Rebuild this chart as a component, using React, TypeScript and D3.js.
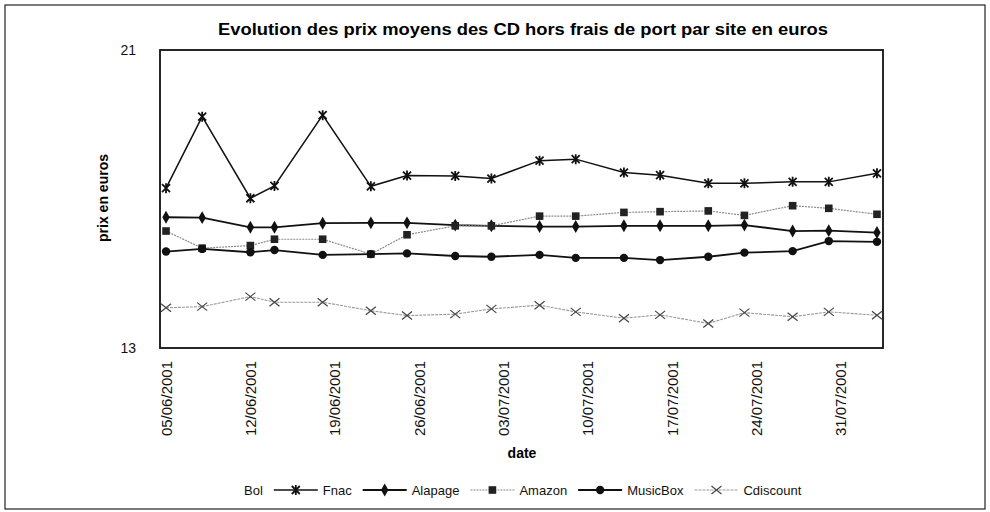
import React, { useEffect, useRef } from 'react';
import * as d3 from 'd3';

// Dates des relevés (axe des abscisses)
const dates = [
  '05/06/2001', '08/06/2001', '12/06/2001', '14/06/2001', '18/06/2001', '22/06/2001',
  '25/06/2001', '29/06/2001', '02/07/2001', '06/07/2001', '09/07/2001', '13/07/2001',
  '16/07/2001', '20/07/2001', '23/07/2001', '27/07/2001', '30/07/2001', '03/08/2001'
];

const tickLabels = [
  '05/06/2001', '12/06/2001', '19/06/2001', '26/06/2001', '03/07/2001',
  '10/07/2001', '17/07/2001', '24/07/2001', '31/07/2001'
];

const yTicks = [13, 21];

const bol: number[] = [];
const fnac = [17.29, 19.21, 17.02, 17.35, 19.25, 17.34, 17.63, 17.62, 17.55, 18.03, 18.07, 17.71, 17.64, 17.42, 17.42, 17.46, 17.46, 17.69];
const alapage = [16.51, 16.5, 16.24, 16.24, 16.35, 16.36, 16.36, 16.3, 16.28, 16.26, 16.26, 16.28, 16.28, 16.28, 16.3, 16.14, 16.15, 16.1];
const amazon = [16.14, 15.68, 15.75, 15.92, 15.92, 15.52, 16.04, 16.28, 16.28, 16.54, 16.54, 16.64, 16.66, 16.68, 16.56, 16.82, 16.75, 16.59];
const musicbox = [15.59, 15.66, 15.57, 15.63, 15.5, 15.52, 15.54, 15.47, 15.45, 15.5, 15.42, 15.42, 15.36, 15.45, 15.56, 15.6, 15.87, 15.85];
const cdiscount = [14.08, 14.11, 14.38, 14.23, 14.23, 14.0, 13.87, 13.91, 14.05, 14.15, 13.97, 13.8, 13.89, 13.66, 13.95, 13.84, 13.97, 13.88];

type Marker = 'none' | 'star' | 'diamond' | 'square' | 'circle' | 'cross';

const series: { name: string; values: number[]; stroke: string; width: number; dash?: string; marker: Marker; markerColor: string }[] = [
  { name: 'Bol', values: bol, stroke: 'none', width: 0, marker: 'none', markerColor: 'none' },
  { name: 'Fnac', values: fnac, stroke: '#111', width: 1.5, marker: 'star', markerColor: '#111' },
  { name: 'Alapage', values: alapage, stroke: '#111', width: 1.8, marker: 'diamond', markerColor: '#111' },
  { name: 'Amazon', values: amazon, stroke: '#8a8a8a', width: 1.2, dash: '2,1', marker: 'square', markerColor: '#222' },
  { name: 'MusicBox', values: musicbox, stroke: '#111', width: 1.8, marker: 'circle', markerColor: '#111' },
  { name: 'Cdiscount', values: cdiscount, stroke: '#9a9a9a', width: 1.1, dash: '3,1', marker: 'cross', markerColor: '#444' }
];

const FONT = '"Liberation Sans", Arial, Helvetica, sans-serif';

function drawMarker(g: any, type: Marker, x: number, y: number, color: string) {
  if (type === 'star') {
    const r = 4;
    g.append('path')
      .attr('d', `M${x - r},${y - r}L${x + r},${y + r}M${x - r},${y + r}L${x + r},${y - r}M${x},${y - r - 1}L${x},${y + r + 1}`)
      .attr('stroke', color).attr('stroke-width', 1.8).attr('fill', 'none');
  } else if (type === 'diamond') {
    g.append('path')
      .attr('d', d3.symbol(d3.symbolDiamond, 48)() as string)
      .attr('transform', `translate(${x},${y})`)
      .attr('fill', color);
  } else if (type === 'square') {
    g.append('rect')
      .attr('x', x - 3.8).attr('y', y - 3.8).attr('width', 7.6).attr('height', 7.6)
      .attr('fill', color);
  } else if (type === 'circle') {
    g.append('circle').attr('cx', x).attr('cy', y).attr('r', 4.2).attr('fill', color);
  } else if (type === 'cross') {
    const r = 5;
    g.append('path')
      .attr('d', `M${x - r},${y - r * 0.8}L${x + r},${y + r * 0.8}M${x - r},${y + r * 0.8}L${x + r},${y - r * 0.8}`)
      .attr('stroke', color).attr('stroke-width', 1.2).attr('fill', 'none');
  }
}

const App: React.FC = () => {
  const svgRef = useRef<SVGSVGElement>(null);
  const width = 990;
  const height = 512;

  useEffect(() => {
    document.body.style.margin = '0';
    if (!svgRef.current) return;
    const svg = d3.select(svgRef.current);
    svg.selectAll('*').remove();

    const parse = d3.timeParse('%d/%m/%Y');
    const xs = dates.map(d => parse(d) as Date);
    const halfDay = 12 * 3600 * 1000;

    const plot = { left: 160, right: 883, top: 50, bottom: 348 };

    const x = d3.scaleTime()
      .domain([new Date(+xs[0] - halfDay), new Date(+xs[xs.length - 1] + halfDay)])
      .range([plot.left, plot.right]);
    const y = d3.scaleLinear().domain([13, 21]).range([plot.bottom, plot.top]);

    svg.append('rect').attr('width', width).attr('height', height).attr('fill', '#fff');

    // cadre extérieur
    svg.append('rect')
      .attr('x', 5).attr('y', 5).attr('width', 980).attr('height', 504)
      .attr('fill', 'none').attr('stroke', '#222').attr('stroke-width', 1.2);

    // titre
    svg.append('text')
      .attr('x', 523).attr('y', 35)
      .attr('text-anchor', 'middle')
      .attr('textLength', 610)
      .attr('lengthAdjust', 'spacingAndGlyphs')
      .style('font-family', FONT).style('font-size', '17px').style('font-weight', 'bold')
      .text('Evolution des prix moyens des CD hors frais de port par site en euros');

    // zone de tracé
    svg.append('rect')
      .attr('x', plot.left).attr('y', plot.top)
      .attr('width', plot.right - plot.left).attr('height', plot.bottom - plot.top)
      .attr('fill', 'none').attr('stroke', '#111').attr('stroke-width', 1.8);

    // axe y
    const yAxis = d3.axisLeft(y).tickValues(yTicks).tickSize(0).tickPadding(24).tickFormat(d3.format('d'));
    const yg = svg.append('g').attr('transform', `translate(${plot.left},0)`).call(yAxis);
    yg.select('.domain').remove();
    yg.selectAll('text').style('font-family', FONT).style('font-size', '14px').attr('fill', '#111');

    // axe x
    const xg = svg.append('g');
    tickLabels.forEach(t => {
      const px = x(parse(t) as Date);
      xg.append('text')
        .attr('transform', `translate(${px},${plot.bottom + 13}) rotate(-90)`)
        .attr('text-anchor', 'end')
        .attr('dominant-baseline', 'central')
        .style('font-family', FONT).style('font-size', '15px')
        .attr('fill', '#111')
        .text(t);
    });

    svg.append('text')
      .attr('x', 522).attr('y', 458)
      .attr('text-anchor', 'middle')
      .style('font-family', FONT).style('font-size', '14px').style('font-weight', 'bold')
      .text('date');

    svg.append('text')
      .attr('transform', `translate(103,198) rotate(-90)`)
      .attr('text-anchor', 'middle')
      .attr('dominant-baseline', 'central')
      .style('font-family', FONT).style('font-size', '14px').style('font-weight', 'bold')
      .text('prix en euros');

    // séries
    const line = d3.line<number>()
      .x((_d, i) => x(xs[i]))
      .y(d => y(d));

    series.forEach(s => {
      if (!s.values.length) return;
      const g = svg.append('g');
      g.append('path')
        .attr('d', line(s.values) as string)
        .attr('fill', 'none')
        .attr('stroke', s.stroke)
        .attr('stroke-width', s.width)
        .attr('stroke-dasharray', s.dash || null);
      s.values.forEach((v, i) => drawMarker(g, s.marker, x(xs[i]), y(v), s.markerColor));
    });

    // légende
    const lg = svg.append('g');
    const symW = 44;
    const gapSym = 5;
    const gapItem = 11;
    const ly = 490;
    let cx = 244 - symW - gapSym;
    series.forEach(s => {
      if (s.marker !== 'none') {
        lg.append('line')
          .attr('x1', cx).attr('x2', cx + symW).attr('y1', ly).attr('y2', ly)
          .attr('stroke', s.stroke).attr('stroke-width', s.width)
          .attr('stroke-dasharray', s.dash || null);
        drawMarker(lg, s.marker, cx + symW / 2, ly, s.markerColor);
      }
      const t = lg.append('text')
        .attr('x', cx + symW + gapSym).attr('y', ly)
        .attr('dominant-baseline', 'central')
        .style('font-family', FONT).style('font-size', '13px')
        .attr('fill', '#111')
        .text(s.name);
      const w = (t.node() as SVGTextElement).getComputedTextLength();
      cx += symW + gapSym + w + gapItem;
    });
  }, []);

  return <svg ref={svgRef} width={width} height={height} style={{ display: 'block' }} />;
};

export default App;
